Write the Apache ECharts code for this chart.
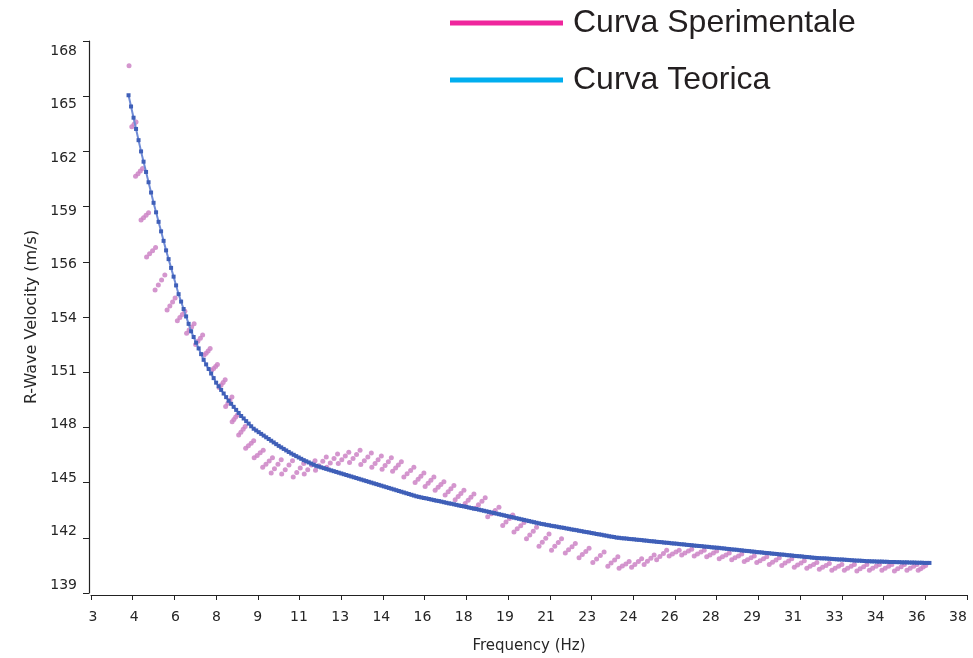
<!DOCTYPE html>
<html>
<head>
<meta charset="utf-8">
<title>R-Wave Velocity vs Frequency</title>
<script src="https://cdn.jsdelivr.net/npm/echarts@6/dist/echarts.min.js"></script>
<style>
  html, body { margin: 0; padding: 0; background: #ffffff; }
  #chart { width: 973px; height: 658px; }
</style>
</head>
<body>
<div id="chart"></div>
<script>
// Axis tick labels (evenly spaced ticks across each axis range)
const xTickLabels = ['3','4','6','8','9','11','13','14','16','18','19','21','23','24','26','28','29','31','33','34','36','38'];
const yTickLabels = ['139','142','145','148','151','154','156','159','162','165','168'];
const xRange = [3, 38];
const yRange = [139, 168];

// Theoretical dispersion curve: [frequency Hz, velocity m/s]
const theoPoints = [
[4.5,165.15],[4.6,164.56],[4.7,163.97],[4.8,163.38],[4.9,162.79],[5.0,162.20],[5.1,161.66],[5.2,161.12],[5.3,160.58],[5.4,160.04],
[5.5,159.50],[5.6,159.00],[5.7,158.50],[5.8,158.00],[5.9,157.50],[6.0,157.00],[6.1,156.54],[6.2,156.08],[6.3,155.62],[6.4,155.16],
[6.5,154.70],[6.6,154.31],[6.7,153.92],[6.8,153.53],[6.9,153.14],[7.0,152.75],[7.1,152.45],[7.2,152.15],[7.3,151.85],[7.4,151.55],
[7.5,151.25],[7.6,151.01],[7.7,150.77],[7.8,150.53],[7.9,150.29],[8.0,150.05],[8.1,149.86],[8.2,149.67],[8.3,149.48],[8.4,149.29],
[8.5,149.10],[8.6,148.94],[8.7,148.78],[8.8,148.62],[8.9,148.46],[9.0,148.30],[9.1,148.17],[9.2,148.03],[9.3,147.90],[9.4,147.76],
[9.5,147.63],[9.6,147.54],[9.7,147.45],[9.8,147.36],[9.9,147.27],[10.0,147.18],[10.1,147.09],[10.2,147.00],[10.3,146.91],[10.4,146.82],
[10.5,146.73],[10.6,146.65],[10.7,146.57],[10.8,146.49],[10.9,146.41],[11.0,146.33],[11.1,146.26],[11.2,146.19],[11.3,146.12],[11.4,146.05],
[11.5,145.98],[11.6,145.92],[11.7,145.86],[11.8,145.80],[11.9,145.74],[12.0,145.68],[12.1,145.64],[12.2,145.60],[12.3,145.56],[12.4,145.52],
[12.5,145.48],[12.6,145.44],[12.7,145.40],[12.8,145.36],[12.9,145.32],[13.0,145.28],[13.1,145.24],[13.2,145.20],[13.3,145.16],[13.4,145.12],
[13.5,145.08],[13.6,145.04],[13.7,145.00],[13.8,144.96],[13.9,144.92],[14.0,144.88],[14.1,144.84],[14.2,144.80],[14.3,144.76],[14.4,144.72],
[14.5,144.68],[14.6,144.64],[14.7,144.60],[14.8,144.56],[14.9,144.52],[15.0,144.48],[15.1,144.44],[15.2,144.40],[15.3,144.36],[15.4,144.32],
[15.5,144.28],[15.6,144.24],[15.7,144.20],[15.8,144.16],[15.9,144.12],[16.0,144.08],[16.1,144.05],[16.2,144.02],[16.3,143.99],[16.4,143.97],
[16.5,143.94],[16.6,143.91],[16.7,143.88],[16.8,143.85],[16.9,143.83],[17.0,143.80],[17.1,143.77],[17.2,143.74],[17.3,143.71],[17.4,143.69],
[17.5,143.66],[17.6,143.63],[17.7,143.60],[17.8,143.57],[17.9,143.55],[18.0,143.52],[18.1,143.49],[18.2,143.46],[18.3,143.43],[18.4,143.41],
[18.5,143.38],[18.6,143.35],[18.7,143.32],[18.8,143.29],[18.9,143.26],[19.0,143.23],[19.1,143.20],[19.2,143.17],[19.3,143.14],[19.4,143.11],
[19.5,143.08],[19.6,143.05],[19.7,143.02],[19.8,142.99],[19.9,142.96],[20.0,142.93],[20.1,142.90],[20.2,142.87],[20.3,142.84],[20.4,142.81],
[20.5,142.78],[20.6,142.75],[20.7,142.72],[20.8,142.69],[20.9,142.66],[21.0,142.63],[21.1,142.61],[21.2,142.58],[21.3,142.56],[21.4,142.53],
[21.5,142.51],[21.6,142.49],[21.7,142.46],[21.8,142.44],[21.9,142.42],[22.0,142.39],[22.1,142.37],[22.2,142.34],[22.3,142.32],[22.4,142.30],
[22.5,142.27],[22.6,142.25],[22.7,142.22],[22.8,142.20],[22.9,142.18],[23.0,142.15],[23.1,142.13],[23.2,142.10],[23.3,142.08],[23.4,142.06],
[23.5,142.03],[23.6,142.01],[23.7,141.98],[23.8,141.96],[23.9,141.94],[24.0,141.91],[24.1,141.90],[24.2,141.88],[24.3,141.87],[24.4,141.86],
[24.5,141.84],[24.6,141.83],[24.7,141.82],[24.8,141.80],[24.9,141.79],[25.0,141.78],[25.1,141.76],[25.2,141.75],[25.3,141.73],[25.4,141.72],
[25.5,141.71],[25.6,141.69],[25.7,141.68],[25.8,141.67],[25.9,141.65],[26.0,141.64],[26.1,141.63],[26.2,141.61],[26.3,141.60],[26.4,141.59],
[26.5,141.57],[26.6,141.56],[26.7,141.55],[26.8,141.53],[26.9,141.52],[27.0,141.51],[27.1,141.49],[27.2,141.48],[27.3,141.47],[27.4,141.46],
[27.5,141.44],[27.6,141.43],[27.7,141.42],[27.8,141.40],[27.9,141.39],[28.0,141.38],[28.1,141.37],[28.2,141.35],[28.3,141.34],[28.4,141.32],
[28.5,141.31],[28.6,141.29],[28.7,141.28],[28.8,141.27],[28.9,141.25],[29.0,141.24],[29.1,141.22],[29.2,141.21],[29.3,141.20],[29.4,141.18],
[29.5,141.17],[29.6,141.15],[29.7,141.14],[29.8,141.13],[29.9,141.11],[30.0,141.10],[30.1,141.09],[30.2,141.07],[30.3,141.06],[30.4,141.05],
[30.5,141.03],[30.6,141.02],[30.7,141.01],[30.8,140.99],[30.9,140.98],[31.0,140.97],[31.1,140.95],[31.2,140.94],[31.3,140.93],[31.4,140.92],
[31.5,140.90],[31.6,140.89],[31.7,140.88],[31.8,140.86],[31.9,140.85],[32.0,140.84],[32.1,140.83],[32.2,140.82],[32.3,140.82],[32.4,140.81],
[32.5,140.80],[32.6,140.79],[32.7,140.78],[32.8,140.77],[32.9,140.76],[33.0,140.76],[33.1,140.75],[33.2,140.74],[33.3,140.73],[33.4,140.72],
[33.5,140.71],[33.6,140.70],[33.7,140.70],[33.8,140.69],[33.9,140.68],[34.0,140.67],[34.1,140.67],[34.2,140.66],[34.3,140.66],[34.4,140.65],
[34.5,140.65],[34.6,140.65],[34.7,140.64],[34.8,140.64],[34.9,140.63],[35.0,140.63],[35.1,140.63],[35.2,140.62],[35.3,140.62],[35.4,140.61],
[35.5,140.61],[35.6,140.61],[35.7,140.60],[35.8,140.60],[35.9,140.60],[36.0,140.59],[36.1,140.59],[36.2,140.59],[36.3,140.58],[36.4,140.58],
[36.5,140.58]
];

// Experimental dispersion points: [frequency Hz, velocity m/s]
const expPoints = [
[4.52,166.7],
[4.63,163.5],[4.72,163.62],[4.80,163.75],
[4.78,160.9],[4.88,161.03],[4.97,161.17],[5.06,161.3],
[5.00,158.6],[5.10,158.72],[5.20,158.85],[5.30,158.98],
[5.22,156.65],[5.34,156.82],[5.46,156.98],[5.58,157.15],
[5.56,154.92],[5.69,155.18],[5.82,155.44],[5.95,155.7],
[6.04,153.87],[6.15,154.08],[6.26,154.29],[6.36,154.5],
[6.45,153.3],[6.55,153.47],[6.65,153.63],[6.75,153.8],
[6.82,152.65],[6.92,152.82],[7.02,152.98],[7.12,153.15],
[7.18,152.05],[7.27,152.22],[7.37,152.38],[7.46,152.55],
[7.52,151.5],[7.60,151.6],[7.68,151.72],[7.76,151.85],
[7.82,150.7],[7.90,150.8],[7.98,150.9],[8.05,151.0],
[8.12,149.8],[8.20,149.93],[8.28,150.06],[8.36,150.2],
[8.38,148.8],[8.47,148.97],[8.55,149.13],[8.63,149.3],
[8.64,148.0],[8.71,148.12],[8.78,148.24],[8.85,148.35],
[8.90,147.3],[8.99,147.45],[9.08,147.6],[9.16,147.75],
[9.18,146.6],[9.29,146.73],[9.40,146.87],[9.50,147.0],
[9.52,146.1],[9.64,146.23],[9.76,146.37],[9.88,146.5],
[9.86,145.6],[9.99,145.77],[10.12,145.93],[10.25,146.1],
[10.2,145.3],[10.33,145.53],[10.47,145.77],[10.6,146.0],
[10.62,145.25],[10.76,145.48],[10.91,145.72],[11.05,145.95],
[11.08,145.1],[11.22,145.33],[11.36,145.57],[11.5,145.8],
[11.52,145.25],[11.66,145.48],[11.81,145.72],[11.95,145.95],
[11.97,145.45],[12.11,145.68],[12.26,145.92],[12.4,146.15],
[12.42,145.6],[12.56,145.83],[12.71,146.07],[12.85,146.3],
[12.88,145.8],[13.02,146.0],[13.16,146.2],[13.3,146.4],
[13.33,145.85],[13.47,146.07],[13.61,146.28],[13.75,146.5],
[13.78,145.75],[13.92,145.95],[14.06,146.15],[14.2,146.35],
[14.22,145.6],[14.35,145.8],[14.47,146.0],[14.6,146.2],
[14.63,145.5],[14.75,145.7],[14.88,145.9],[15.0,146.1],
[15.05,145.4],[15.17,145.57],[15.28,145.73],[15.4,145.9],
[15.5,145.1],[15.63,145.27],[15.77,145.43],[15.9,145.6],
[15.95,144.8],[16.07,144.97],[16.18,145.13],[16.3,145.3],
[16.35,144.6],[16.47,144.77],[16.58,144.93],[16.7,145.1],
[16.75,144.4],[16.87,144.55],[16.98,144.7],[17.1,144.85],
[17.15,144.15],[17.27,144.32],[17.38,144.48],[17.5,144.65],
[17.55,143.9],[17.67,144.07],[17.78,144.23],[17.9,144.4],
[17.95,143.7],[18.07,143.87],[18.18,144.03],[18.3,144.2],
[18.35,143.45],[18.48,143.63],[18.62,143.82],[18.75,144.0],
[18.85,143.0],[19.0,143.17],[19.15,143.33],[19.3,143.5],
[19.45,142.55],[19.58,142.73],[19.72,142.92],[19.85,143.1],
[19.9,142.2],[20.03,142.37],[20.17,142.53],[20.3,142.7],
[20.4,141.85],[20.53,142.05],[20.67,142.25],[20.8,142.45],
[20.9,141.45],[21.03,141.67],[21.17,141.88],[21.3,142.1],
[21.4,141.25],[21.53,141.45],[21.67,141.65],[21.8,141.85],
[21.95,141.1],[22.08,141.27],[22.22,141.43],[22.35,141.6],
[22.5,140.85],[22.63,141.02],[22.77,141.18],[22.9,141.35],
[23.05,140.6],[23.2,140.78],[23.35,140.97],[23.5,141.15],
[23.65,140.4],[23.78,140.57],[23.92,140.73],[24.05,140.9],
[24.1,140.3],[24.23,140.42],[24.37,140.53],[24.5,140.65],
[24.6,140.35],[24.73,140.5],[24.87,140.65],[25.0,140.8],
[25.1,140.5],[25.23,140.67],[25.37,140.83],[25.5,141.0],
[25.6,140.75],[25.73,140.92],[25.87,141.08],[26.0,141.25],
[26.1,140.95],[26.23,141.05],[26.37,141.15],[26.5,141.25],
[26.6,141.0],[26.73,141.1],[26.87,141.2],[27.0,141.3],
[27.1,140.95],[27.23,141.05],[27.37,141.15],[27.5,141.25],
[27.6,140.9],[27.73,141.0],[27.87,141.1],[28.0,141.2],
[28.1,140.8],[28.23,140.9],[28.37,141.0],[28.5,141.1],
[28.6,140.75],[28.73,140.85],[28.87,140.95],[29.0,141.05],
[29.1,140.65],[29.23,140.75],[29.37,140.85],[29.5,140.95],
[29.6,140.6],[29.73,140.7],[29.87,140.8],[30.0,140.9],
[30.1,140.5],[30.23,140.62],[30.37,140.73],[30.5,140.85],
[30.6,140.45],[30.73,140.57],[30.87,140.68],[31.0,140.8],
[31.1,140.35],[31.23,140.47],[31.37,140.58],[31.5,140.7],
[31.6,140.3],[31.73,140.4],[31.87,140.5],[32.0,140.6],
[32.1,140.25],[32.23,140.35],[32.37,140.45],[32.5,140.55],
[32.6,140.2],[32.73,140.3],[32.87,140.4],[33.0,140.5],
[33.1,140.2],[33.23,140.3],[33.37,140.4],[33.5,140.5],
[33.6,140.15],[33.73,140.27],[33.87,140.38],[34.0,140.5],
[34.1,140.2],[34.23,140.3],[34.37,140.4],[34.5,140.5],
[34.6,140.2],[34.73,140.3],[34.87,140.4],[35.0,140.5],
[35.1,140.15],[35.23,140.27],[35.37,140.38],[35.5,140.5],
[35.6,140.2],[35.73,140.3],[35.87,140.4],[36.0,140.5],
[36.05,140.2],[36.15,140.28],[36.25,140.37],[36.35,140.45]
];

// Evenly spaced values between two ends (tick and label placement)
function evenSpread(ends, count) {
  const step = (ends[1] - ends[0]) / (count - 1);
  return Array.from({ length: count }, (_, i) => ends[0] + i * step);
}
// Tick marks span the full axis; the label row sits slightly inside it
const xTickValues = evenSpread(xRange, xTickLabels.length);
const yTickValues = evenSpread(yRange, yTickLabels.length);
const xLabelValues = evenSpread([3.08, 37.64], xTickLabels.length);
const yLabelValues = evenSpread([139.42, 167.47], yTickLabels.length);

function labelFor(values, labels) {
  return function (v) {
    let best = 0;
    for (let i = 1; i < values.length; i++) {
      if (Math.abs(values[i] - v) < Math.abs(values[best] - v)) best = i;
    }
    return labels[best];
  };
}

const FONT = 'DejaVu Sans';
const axisColor = '#222222';
const textColor = '#262626';

const chart = echarts.init(document.getElementById('chart'), null, { renderer: 'canvas' });
chart.setOption({
  animation: false,
  backgroundColor: '#ffffff',
  grid: { left: 91, right: 6, top: 41, bottom: 65, outerBoundsMode: 'none', containLabel: false },
  legend: {
    orient: 'vertical',
    left: 450,
    top: 7,
    padding: 0,
    icon: 'rect',
    itemWidth: 113,
    itemHeight: 5,
    itemGap: 25,
    selectedMode: false,
    textStyle: {
      fontFamily: 'Liberation Sans',
      fontSize: 32,
      lineHeight: 32,
      color: '#231f20',
      padding: [0, 0, 0, 5]
    },
    data: [
      { name: 'Curva Sperimentale', itemStyle: { color: '#ec008c' } },
      { name: 'Curva Teorica', itemStyle: { color: '#00aeef' } }
    ]
  },
  xAxis: {
    type: 'value',
    min: xRange[0],
    max: xRange[1],
    offset: 2,
    name: 'Frequency (Hz)',
    nameLocation: 'middle',
    nameGap: 44,
    nameTextStyle: { fontFamily: FONT, fontSize: 15, color: textColor },
    axisLine: { show: true, lineStyle: { color: axisColor, width: 1.2 } },
    axisTick: { show: true, length: 5, customValues: xTickValues, lineStyle: { color: axisColor } },
    axisLabel: {
      customValues: xLabelValues,
      formatter: labelFor(xLabelValues, xTickLabels),
      fontFamily: FONT, fontSize: 14, color: textColor, margin: 15
    },
    splitLine: { show: false }
  },
  yAxis: {
    type: 'value',
    min: yRange[0],
    max: yRange[1],
    offset: 2,
    name: 'R-Wave Velocity (m/s)',
    nameLocation: 'middle',
    nameGap: 45,
    nameTextStyle: { fontFamily: FONT, fontSize: 16, color: textColor },
    axisLine: { show: true, lineStyle: { color: axisColor, width: 1.2 } },
    axisTick: { show: true, length: 6, customValues: yTickValues, lineStyle: { color: axisColor } },
    axisLabel: {
      customValues: yLabelValues,
      formatter: labelFor(yLabelValues, yTickLabels),
      fontFamily: FONT, fontSize: 14, color: textColor, margin: 12
    },
    splitLine: { show: false }
  },
  series: [
    {
      name: 'Curva Sperimentale',
      type: 'scatter',
      data: expPoints,
      symbol: 'circle',
      symbolSize: 5,
      itemStyle: { color: '#cc84c5', opacity: 0.85 },
      z: 2
    },
    {
      name: 'Curva Teorica',
      type: 'line',
      data: theoPoints,
      symbol: 'rect',
      symbolSize: 4,
      showSymbol: true,
      showAllSymbol: true,
      lineStyle: { color: '#6f8bd6', width: 2 },
      itemStyle: { color: '#3f5fb8' },
      z: 3
    }
  ]
});
</script>
</body>
</html>
